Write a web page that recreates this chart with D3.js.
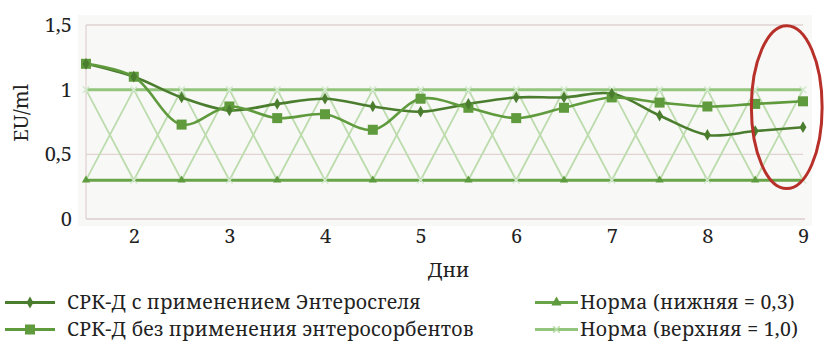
<!DOCTYPE html>
<html><head><meta charset="utf-8">
<script src="https://cdn.jsdelivr.net/npm/d3@7"></script>
<style>
html,body{margin:0;padding:0;background:#fff;}
svg{display:block;}
</style></head>
<body><svg id="c" width="826" height="344"></svg>
<script>
// ---- data ----
const days = [1.5,2,2.5,3,3.5,4,4.5,5,5.5,6,6.5,7,7.5,8,8.5,9];
const xTicks = [2,3,4,5,6,7,8,9];
const yTicks = [0,0.5,1,1.5];
const yTickLabels = ["0","0,5","1","1,5"];
const withEnterosgel = [1.2,1.1,0.94,0.84,0.89,0.93,0.87,0.83,0.89,0.94,0.94,0.97,0.80,0.65,0.68,0.71];
const withoutSorbents = [1.2,1.1,0.73,0.87,0.78,0.81,0.69,0.93,0.86,0.78,0.86,0.94,0.90,0.87,0.89,0.91];
const normLower = [0.3,0.3,0.3,0.3,0.3,0.3,0.3,0.3,0.3,0.3,0.3,0.3,0.3,0.3,0.3,0.3];
const normUpper = [1,1,1,1,1,1,1,1,1,1,1,1,1,1,1,1];
const zigA = [1,0.3,1,0.3,1,0.3,1,0.3,1,0.3,1,0.3,1,0.3,1,0.3];
const zigB = [0.3,1,0.3,1,0.3,1,0.3,1,0.3,1,0.3,1,0.3,1,0.3,1];
const legendLabels = ["СРК-Д с применением Энтеросгеля","СРК-Д без применения энтеросорбентов","Норма (нижняя = 0,3)","Норма (верхняя = 1,0)"];
const xTitle = "Дни", yTitle = "EU/ml";
const highlight = {cx:8.83, cy:0.865, rx:0.37, ry:0.63};

// ---- layout ----
const FONT = "'Noto Serif','Liberation Serif',serif";
const svg = d3.select("#c");
const x = d3.scaleLinear().domain([1.5,9]).range([86,803]);
const y = d3.scaleLinear().domain([0,1.5]).range([219,25]);

const cDark = "#4b7d2f", cSq = "#5f9a3d", cLow = "#69a448", cUp = "#93c57c", cZig = "#bcdcad";

svg.append("rect").attr("x",78).attr("y",15).attr("width",734).attr("height",211).attr("fill","#f8f8f6");

// gridlines
svg.append("g").selectAll("line").data([0.5,1.5]).join("line")
  .attr("x1",x(1.5)).attr("x2",x(9)).attr("y1",d=>y(d)).attr("y2",d=>y(d))
  .attr("stroke","#e2d3d3").attr("stroke-width",1.3);
svg.append("line").attr("x1",x(1.5)).attr("x2",x(9)+2).attr("y1",y(0)).attr("y2",y(0))
  .attr("stroke","#dccccc").attr("stroke-width",1.5);
svg.append("line").attr("x1",x(1.5)).attr("x2",x(1.5)).attr("y1",y(1.5)).attr("y2",y(0))
  .attr("stroke","#e2d3d3").attr("stroke-width",1.3);

// axes labels
const yAxis = d3.axisLeft(y).tickValues(yTicks).tickFormat((d,i)=>yTickLabels[i]).tickSize(0).tickPadding(0);
const gy = svg.append("g").attr("transform","translate(72,0)").call(yAxis);
gy.select(".domain").remove();
gy.selectAll("text").style("font-family",FONT).style("font-size","20px").attr("fill","#222").attr("dy","0.32em");

const xAxis = d3.axisBottom(x).tickValues(xTicks).tickFormat(d3.format("d")).tickSize(0).tickPadding(0);
const gx = svg.append("g").attr("transform","translate(0,229)").call(xAxis);
gx.select(".domain").remove();
gx.selectAll("text").style("font-family",FONT).style("font-size","20px").attr("fill","#222").attr("dy","0.71em");

svg.append("text").attr("x",(x(1.5)+x(9))/2+4).attr("y",277).attr("text-anchor","middle")
  .style("font-family",FONT).style("font-size","20px").attr("fill","#222").text(xTitle);
svg.append("text").attr("transform","translate(28,113) rotate(-90)").attr("text-anchor","middle")
  .style("font-family",FONT).style("font-size","20px").attr("fill","#222").text(yTitle);

// series
const line = d3.line().x((d,i)=>x(days[i])).y(d=>y(d));
const smooth = d3.line().x((d,i)=>x(days[i])).y(d=>y(d)).curve(d3.curveCatmullRom.alpha(0.5));

[zigA,zigB].forEach(s=>svg.append("path").attr("d",line(s)).attr("fill","none").attr("stroke",cZig).attr("stroke-width",1.8));
svg.append("path").attr("d",line(normUpper)).attr("fill","none").attr("stroke",cUp).attr("stroke-width",3);
svg.append("path").attr("d",line(normLower)).attr("fill","none").attr("stroke",cLow).attr("stroke-width",3);

// norm markers
const crossSym = d3.symbol().type(d3.symbolX).size(30);
const triSym = d3.symbol().type(d3.symbolTriangle).size(30);
svg.append("g").selectAll("path").data(normUpper).join("path")
  .attr("transform",(d,i)=>`translate(${x(days[i])},${y(d)})`).attr("d",crossSym())
  .attr("stroke","#d5ead0").attr("stroke-width",1.5).attr("fill","none");
svg.append("g").selectAll("path").data(normLower).join("path")
  .attr("transform",(d,i)=>`translate(${x(days[i])},${y(d)})`)
  .attr("d",(d,i)=> i%2===0 ? triSym() : crossSym())
  .attr("fill",(d,i)=> i%2===0 ? "#5e9b3e" : "none")
  .attr("stroke",(d,i)=> i%2===0 ? "none" : "#d5ead0").attr("stroke-width",1.5);

svg.append("path").attr("d",smooth(withEnterosgel)).attr("fill","none").attr("stroke",cDark).attr("stroke-width",2.6);
svg.append("path").attr("d",smooth(withoutSorbents)).attr("fill","none").attr("stroke",cSq).attr("stroke-width",2.6);

svg.append("g").selectAll("rect").data(withoutSorbents).join("rect")
  .attr("x",(d,i)=>x(days[i])-5).attr("y",d=>y(d)-5).attr("width",10).attr("height",10).attr("fill",cSq);
const diaSym = d3.symbol().type(d3.symbolDiamond).size(40);
svg.append("g").selectAll("path").data(withEnterosgel).join("path")
  .attr("transform",(d,i)=>`translate(${x(days[i])},${y(d)})`).attr("d",diaSym()).attr("fill",cDark);

// highlight ellipse
svg.append("ellipse").attr("cx",x(highlight.cx)).attr("cy",y(highlight.cy))
  .attr("rx",x(highlight.cx+highlight.rx)-x(highlight.cx)).attr("ry",y(0)-y(highlight.ry))
  .attr("fill","none").attr("stroke","#b8302a").attr("stroke-width",3);

// legend
const legend = [
  {label:legendLabels[0], x:5, y:302.5, color:cDark, mk:"dia"},
  {label:legendLabels[1], x:5, y:329.5, color:cSq, mk:"sq"},
  {label:legendLabels[2], x:535, y:302.5, color:cLow, mk:"tri"},
  {label:legendLabels[3], x:535, y:329.5, color:cUp, mk:"x"}
];
legend.forEach((L,k)=>{
  const g = svg.append("g");
  const w = k<2 ? 50 : 43;
  g.append("line").attr("x1",L.x).attr("x2",L.x+w).attr("y1",L.y).attr("y2",L.y).attr("stroke",L.color).attr("stroke-width",3);
  const cx = L.x+w/2;
  if(L.mk==="dia") g.append("path").attr("transform",`translate(${cx},${L.y})`).attr("d",diaSym()).attr("fill",cDark);
  if(L.mk==="sq") g.append("rect").attr("x",cx-5).attr("y",L.y-5).attr("width",10).attr("height",10).attr("fill",cSq);
  if(L.mk==="tri") g.append("path").attr("transform",`translate(${cx},${L.y})`).attr("d",d3.symbol().type(d3.symbolTriangle).size(45)()).attr("fill","#5e9b3e");
  if(L.mk==="x") g.append("path").attr("transform",`translate(${cx},${L.y})`).attr("d",crossSym()).attr("stroke","#b8dca8").attr("stroke-width",1.5);
  g.append("text").attr("x",L.x+w+(k<2?12:2)).attr("y",L.y).attr("dy","0.33em")
    .style("font-family",FONT).style("font-size","19.5px").style("letter-spacing","0.25px")
    .attr("fill","#222").text(L.label);
});
</script></body></html>
